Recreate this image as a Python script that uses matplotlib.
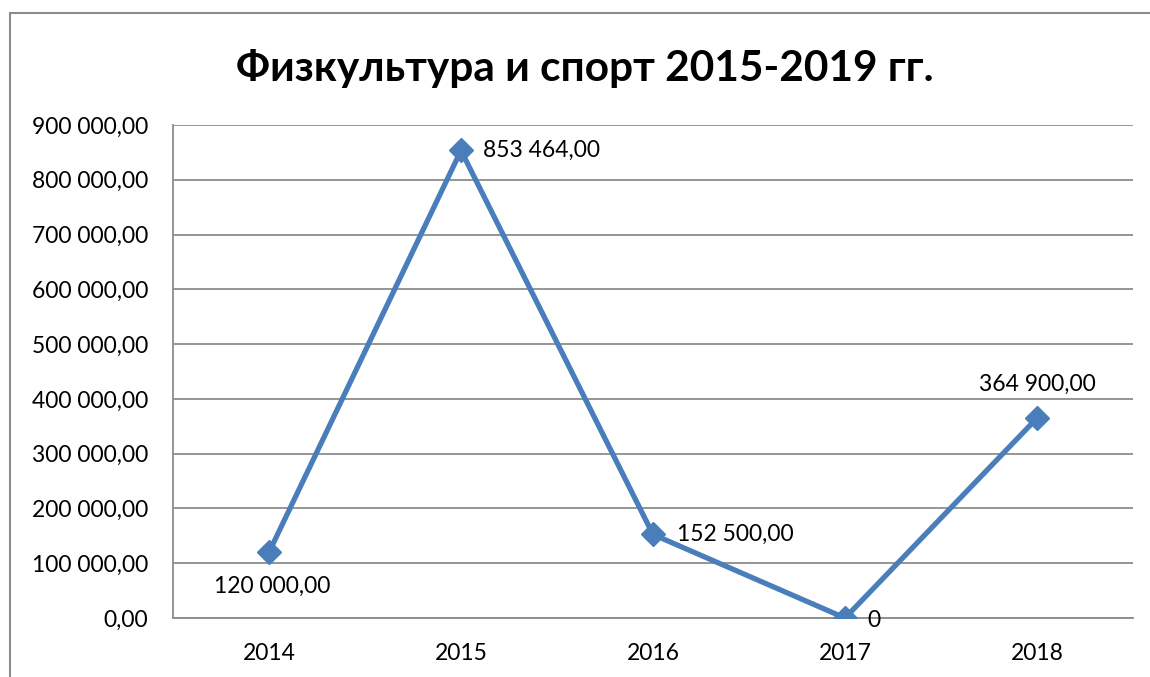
import matplotlib
matplotlib.use("Agg")
import matplotlib.pyplot as plt
from matplotlib.patches import Rectangle

years = ["2014", "2015", "2016", "2017", "2018"]
values = [120000.00, 853464.00, 152500.00, 0.0, 364900.00]
labels = ["120 000,00", "853 464,00", "152 500,00", "0", "364 900,00"]
yticks = [0, 100000, 200000, 300000, 400000, 500000, 600000, 700000, 800000, 900000]

def fmt(v):
    s = f"{v:,.2f}".replace(",", " ").replace(".", ",")
    return s

plt.rcParams['font.family'] = ['Lato', 'DejaVu Sans']

W, H = 1150, 677
fig = plt.figure(figsize=(W/100, H/100), dpi=100)
ax = fig.add_axes([173/W, 1-618/H, (1133-173)/W, (618-125)/H])

x = list(range(len(years)))
color = '#4A7EBB'
ax.plot(x, values, color=color, lw=3.8, marker='D', markersize=12, zorder=3)

ax.set_xlim(-0.5, len(years)-0.5)
ax.set_ylim(0, 900000)
ax.set_yticks(yticks)
ax.set_yticklabels([fmt(v) for v in yticks], fontsize=16.5)
ax.set_xticks(x)
ax.set_xticklabels(years, fontsize=16.5)
ax.tick_params(axis='y', length=0, pad=18)
ax.tick_params(axis='x', length=0, pad=18)
ax.grid(axis='y', color='#8c8c8c', lw=1.3)
ax.set_axisbelow(True)
for s in ['top', 'right']:
    ax.spines[s].set_visible(False)
for s in ['left', 'bottom']:
    ax.spines[s].set_color('#8c8c8c')
    ax.spines[s].set_linewidth(1.3)

offsets = [(2, -17, 'center', 'top'), (16, 0, 'left', 'center'),
           (17, 0, 'left', 'center'), (16, -2, 'left', 'center'),
           (0, 17, 'center', 'bottom')]
for xi, v, lab, (dx, dy, ha, va) in zip(x, values, labels, offsets):
    ax.annotate(lab, (xi, v), xytext=(dx, dy), textcoords='offset points',
                ha=ha, va=va, fontsize=16.5)

fig.text(585/W, 1-69/H, "Физкультура и спорт 2015-2019 гг.", ha='center', va='center',
         fontsize=30.5, fontweight='bold')

fig.patches.append(Rectangle((10/W, -0.05), 1.2, 1-13/H+0.05, transform=fig.transFigure,
                             fill=False, edgecolor='#8c8c8c', lw=1.5))

fig.savefig("out.png", dpi=100)
